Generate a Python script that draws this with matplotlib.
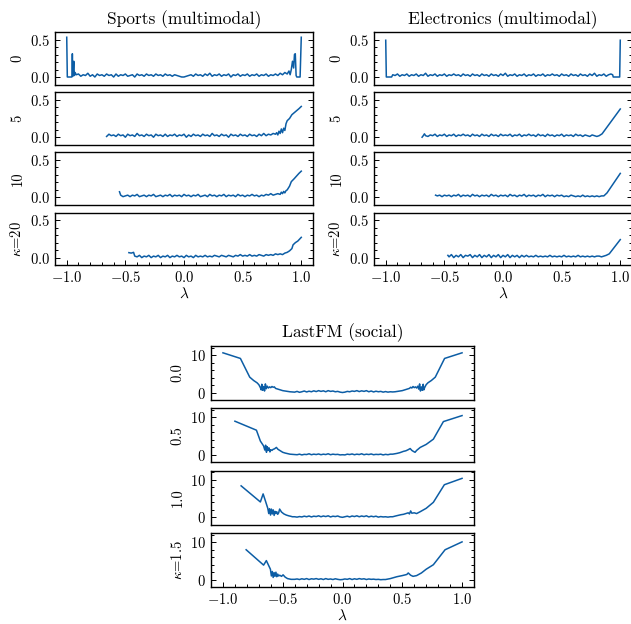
#%% import
import numpy as np
import matplotlib.pyplot as plt
from matplotlib.ticker import MultipleLocator

plt.rcParams['font.family'] = 'serif'
plt.rcParams['font.serif'] = ['cmr10']
plt.rcParams['mathtext.fontset'] = 'cm'
plt.rcParams['axes.formatter.use_mathtext'] = True
plt.rcParams['axes.unicode_minus'] = True

#%% donnees lues sur la figure
# grille commune de lambda pour les parties bruitees
lam_grid = [-1.00, -0.98, -0.96, -0.94, -0.92, -0.90, -0.88, -0.86, -0.84, -0.82,
            -0.80, -0.78, -0.76, -0.74, -0.72, -0.70, -0.68, -0.66, -0.64, -0.62,
            -0.60, -0.58, -0.56, -0.54, -0.52, -0.50, -0.48, -0.46, -0.44, -0.42,
            -0.40, -0.38, -0.36, -0.34, -0.32, -0.30, -0.28, -0.26, -0.24, -0.22,
            -0.20, -0.18, -0.16, -0.14, -0.12, -0.10, -0.08, -0.06, -0.04, -0.02,
            0.00, 0.02, 0.04, 0.06, 0.08, 0.10, 0.12, 0.14, 0.16, 0.18,
            0.20, 0.22, 0.24, 0.26, 0.28, 0.30, 0.32, 0.34, 0.36, 0.38,
            0.40, 0.42, 0.44, 0.46, 0.48, 0.50, 0.52, 0.54, 0.56, 0.58,
            0.60, 0.62, 0.64, 0.66, 0.68, 0.70, 0.72, 0.74, 0.76, 0.78,
            0.80, 0.82, 0.84, 0.86, 0.88, 0.90, 0.92, 0.94, 0.96, 0.98, 1.00]

titles = ['Sports (multimodal)', 'Electronics (multimodal)', 'LastFM (social)']
top_labels = ['0', '5', '10', r'$\kappa$=20']
fm_labels = ['0.0', '0.5', '1.0', r'$\kappa$=1.5']

# Sports, kappa = 0
sp0_hx = [-1.0, -0.995, -0.956, -0.952, -0.948, -0.940, -0.935, -0.928, -0.920]
sp0_hy = [0.53, 0.0, 0.0, 0.31, 0.01, 0.21, 0.02, 0.06, 0.03]
sp0_n0 = -0.90
sp0_ny = [0.04, 0.01, 0.03, 0.02, 0.05, 0.01, 0.03, 0.00, 0.04, 0.02,
          0.03, 0.01, 0.04, 0.02, 0.03, 0.00, 0.04, 0.01, 0.03, 0.02,
          0.04, 0.01, 0.02, 0.03, 0.00, 0.04, 0.02, 0.03, 0.01, 0.04,
          0.02, 0.03, 0.01, 0.04, 0.02, 0.03, 0.01, 0.04, 0.02, 0.03,
          0.01, 0.03, 0.02, 0.01, 0.00, 0.00, 0.01, 0.02, 0.03, 0.01,
          0.04, 0.02, 0.03, 0.01, 0.04, 0.02, 0.05, 0.01, 0.03, 0.02,
          0.04, 0.01, 0.03, 0.02, 0.04, 0.00, 0.03, 0.02, 0.04, 0.01,
          0.03, 0.02, 0.04, 0.01, 0.03, 0.02, 0.04, 0.01, 0.03, 0.02,
          0.04, 0.01, 0.03, 0.02, 0.04, 0.02, 0.05, 0.03, 0.06, 0.04]
sp0_tx = [0.895, 0.905, 0.915, 0.925, 0.935, 0.942, 0.949, 0.956, 0.962, 0.99, 1.0]
sp0_ty = [0.08, 0.03, 0.10, 0.21, 0.12, 0.30, 0.31, 0.02, 0.0, 0.0, 0.53]

# Sports, kappa = 5
sp5_hx = []
sp5_hy = []
sp5_n0 = -0.66
sp5_ny = [0.01, 0.04, 0.02, 0.03, 0.01, 0.04, 0.02, 0.03, 0.00, 0.04,
          0.02, 0.03, 0.01, 0.05, 0.02, 0.03, 0.01, 0.04, 0.02, 0.03,
          0.00, 0.04, 0.02, 0.03, 0.01, 0.04, 0.01, 0.03, 0.02, 0.04,
          0.01, 0.03, 0.02, 0.04, 0.00, 0.03, 0.01, 0.04, 0.02, 0.03,
          0.01, 0.04, 0.02, 0.03, 0.01, 0.05, 0.02, 0.03, 0.01, 0.04,
          0.02, 0.03, 0.00, 0.04, 0.02, 0.03, 0.01, 0.04, 0.02, 0.03,
          0.01, 0.04, 0.02, 0.03, 0.01, 0.04, 0.02, 0.05, 0.02, 0.04,
          0.03, 0.05]
sp5_tx = [0.78, 0.79, 0.80, 0.81, 0.82, 0.83, 0.84, 0.85, 0.86, 0.87, 0.88, 0.90, 0.92, 0.95, 0.98, 1.0]
sp5_ty = [0.04, 0.06, 0.03, 0.08, 0.05, 0.11, 0.06, 0.12, 0.09, 0.18, 0.22, 0.25, 0.30, 0.34, 0.38, 0.41]

# Sports, kappa = 10
sp10_hx = [-0.55]
sp10_hy = [0.075]
sp10_n0 = -0.54
sp10_ny = [0.03, 0.01, 0.02, 0.03, 0.01, 0.03, 0.02, 0.04, 0.01, 0.02,
           0.03, 0.01, 0.03, 0.02, 0.04, 0.01, 0.02, 0.03, 0.01, 0.03,
           0.02, 0.04, 0.01, 0.03, 0.02, 0.03, 0.01, 0.04, 0.02, 0.03,
           0.01, 0.03, 0.02, 0.04, 0.01, 0.02, 0.03, 0.01, 0.04, 0.02,
           0.03, 0.01, 0.03, 0.02, 0.04, 0.01, 0.03, 0.02, 0.03, 0.01,
           0.04, 0.02, 0.03, 0.01, 0.03, 0.02, 0.04, 0.02, 0.03, 0.01,
           0.03, 0.02, 0.04, 0.03, 0.05, 0.03, 0.04]
sp10_tx = [0.80, 0.82, 0.83, 0.84, 0.85, 0.86, 0.87, 0.88, 0.90, 0.915, 0.94, 0.957, 0.98, 1.0]
sp10_ty = [0.05, 0.04, 0.07, 0.05, 0.08, 0.06, 0.09, 0.10, 0.15, 0.21, 0.25, 0.28, 0.32, 0.35]

# Sports, kappa = 20
sp20_hx = [-0.47, -0.45, -0.43, -0.42]
sp20_hy = [0.066, 0.06, 0.07, 0.02]
sp20_n0 = -0.40
sp20_ny = [0.01, 0.03, 0.00, 0.02, 0.01, 0.03, 0.00, 0.02, 0.01, 0.03,
           0.00, 0.02, 0.01, 0.03, 0.00, 0.02, 0.01, 0.03, 0.01, 0.02,
           0.00, 0.03, 0.01, 0.02, 0.00, 0.03, 0.01, 0.02, 0.01, 0.03,
           0.01, 0.02, 0.01, 0.03, 0.02, 0.01, 0.03, 0.02, 0.01, 0.03,
           0.02, 0.01, 0.03, 0.02, 0.04, 0.02, 0.03, 0.02, 0.04, 0.02,
           0.03, 0.02, 0.04, 0.03, 0.02, 0.04, 0.03, 0.04, 0.03, 0.05,
           0.04]
sp20_tx = [0.82, 0.84, 0.86, 0.88, 0.90, 0.92, 0.93, 0.95, 0.97, 1.0]
sp20_ty = [0.05, 0.04, 0.06, 0.07, 0.09, 0.12, 0.17, 0.20, 0.22, 0.27]

# Electronics, kappa = 0
el0_hx = [-1.0, -0.995, -0.95, -0.94]
el0_hy = [0.49, 0.0, 0.0, 0.03]
el0_n0 = -0.92
el0_ny = [0.02, 0.04, 0.01, 0.03, 0.02, 0.04, 0.01, 0.03, 0.02, 0.04,
          0.01, 0.03, 0.02, 0.05, 0.01, 0.03, 0.02, 0.04, 0.01, 0.03,
          0.02, 0.04, 0.01, 0.03, 0.02, 0.04, 0.02, 0.03, 0.01, 0.04,
          0.02, 0.03, 0.01, 0.04, 0.02, 0.03, 0.01, 0.04, 0.02, 0.03,
          0.01, 0.04, 0.02, 0.03, 0.01, 0.04, 0.02, 0.05, 0.01, 0.03,
          0.02, 0.04, 0.01, 0.03, 0.02, 0.04, 0.01, 0.03, 0.02, 0.04,
          0.01, 0.03, 0.02, 0.04, 0.01, 0.03, 0.02, 0.04, 0.02, 0.03,
          0.01, 0.04, 0.02, 0.03, 0.01, 0.04, 0.02, 0.03, 0.01, 0.04,
          0.02, 0.03, 0.01, 0.04, 0.02, 0.05, 0.01, 0.03, 0.02, 0.04,
          0.01, 0.03, 0.04]
el0_tx = [0.935, 0.94, 0.995, 1.0]
el0_ty = [0.03, 0.0, 0.0, 0.49]

# Electronics, kappa = 5
el5_hx = [-0.69, -0.68, -0.67]
el5_hy = [0.0, 0.02, 0.045]
el5_n0 = -0.66
el5_ny = [0.02, 0.01, 0.03, 0.02, 0.04, 0.01, 0.03, 0.02, 0.04, 0.01,
          0.03, 0.02, 0.04, 0.01, 0.03, 0.02, 0.04, 0.02, 0.03, 0.01,
          0.04, 0.02, 0.03, 0.01, 0.04, 0.02, 0.03, 0.01, 0.04, 0.02,
          0.03, 0.01, 0.04, 0.02, 0.03, 0.02, 0.04, 0.01, 0.03, 0.02,
          0.04, 0.01, 0.03, 0.02, 0.04, 0.02, 0.03, 0.01, 0.04, 0.02,
          0.03, 0.01, 0.04, 0.02, 0.03, 0.01, 0.03, 0.02, 0.04, 0.01,
          0.03, 0.02, 0.03, 0.01, 0.04, 0.02, 0.03, 0.01, 0.03, 0.02,
          0.01, 0.03, 0.02, 0.01, 0.02]
el5_tx = [0.845, 1.0]
el5_ty = [0.045, 0.376]

# Electronics, kappa = 10
el10_hx = [-0.575]
el10_hy = [0.03]
el10_n0 = -0.56
el10_ny = [0.02, 0.03, 0.01, 0.03, 0.02, 0.03, 0.01, 0.03, 0.02, 0.04,
           0.01, 0.03, 0.02, 0.03, 0.01, 0.04, 0.02, 0.03, 0.01, 0.03,
           0.02, 0.03, 0.01, 0.04, 0.02, 0.03, 0.01, 0.03, 0.02, 0.03,
           0.01, 0.04, 0.02, 0.03, 0.01, 0.03, 0.02, 0.04, 0.01, 0.03,
           0.02, 0.03, 0.01, 0.03, 0.02, 0.04, 0.01, 0.03, 0.02, 0.03,
           0.01, 0.03, 0.02, 0.03, 0.01, 0.02, 0.01, 0.03, 0.02, 0.01,
           0.02, 0.01, 0.03, 0.01, 0.02, 0.01, 0.02, 0.01, 0.02, 0.01,
           0.02, 0.02]
el10_tx = [0.887, 1.0]
el10_ty = [0.06, 0.32]

# Electronics, kappa = 20
el20_hx = [-0.47]
el20_hy = [0.03]
el20_n0 = -0.46
el20_ny = [0.01, 0.04, 0.00, 0.03, 0.01, 0.04, 0.00, 0.03, 0.02, 0.04,
           0.00, 0.03, 0.01, 0.04, 0.00, 0.03, 0.01, 0.04, 0.00, 0.03,
           0.01, 0.04, 0.00, 0.03, 0.01, 0.04, 0.00, 0.03, 0.01, 0.03,
           0.00, 0.03, 0.01, 0.03, 0.01, 0.02, 0.01, 0.03, 0.01, 0.02,
           0.01, 0.02, 0.01, 0.03, 0.01, 0.02, 0.01, 0.02, 0.01, 0.03,
           0.01, 0.02, 0.01, 0.02, 0.01, 0.03, 0.01, 0.02, 0.01, 0.02,
           0.01, 0.02, 0.01, 0.02, 0.02, 0.01, 0.02, 0.03]
el20_tx = [0.906, 1.0]
el20_ty = [0.05, 0.24]

# LastFM, kappa = 0.0
fm0_hx = [-1.0, -0.854, -0.776, -0.743, -0.715, -0.70, -0.687, -0.68, -0.675, -0.668,
          -0.66, -0.652, -0.645, -0.638, -0.63, -0.62, -0.61, -0.60, -0.59, -0.58,
          -0.57, -0.56, -0.54, -0.52, -0.50, -0.48, -0.46, -0.44, -0.42]
fm0_hy = [10.6, 9.1, 4.1, 3.2, 2.6, 2.1, 1.3, 0.7, 2.2, 0.6,
          1.6, 0.4, 2.3, 1.0, 1.7, 1.2, 1.5, 1.3, 1.6, 1.4,
          1.5, 1.1, 0.9, 0.7, 0.5, 0.4, 0.3, 0.2, 0.15]
fm0_n0 = -0.40
fm0_ny = [0.1, 0.3, 0.05, 0.2, 0.4, 0.15, 0.35, 0.2, 0.45, 0.25,
          0.5, 0.3, 0.45, 0.2, 0.5, 0.3, 0.4, 0.2, 0.3, 0.1,
          0.0, 0.1, 0.3, 0.2, 0.4, 0.3, 0.5, 0.25, 0.45, 0.3,
          0.5, 0.2, 0.4, 0.15, 0.35, 0.2, 0.3, 0.1, 0.25, 0.1, 0.2]
fm0_tx = [0.42, 0.44, 0.46, 0.48, 0.50, 0.52, 0.54, 0.56, 0.57, 0.58,
          0.59, 0.60, 0.61, 0.62, 0.63, 0.638, 0.645, 0.652, 0.66, 0.668,
          0.675, 0.68, 0.687, 0.70, 0.715, 0.743, 0.776, 0.854, 1.0]
fm0_ty = [0.15, 0.2, 0.3, 0.4, 0.5, 0.7, 0.9, 1.1, 1.4, 1.2,
          1.6, 1.3, 1.5, 1.2, 1.7, 0.9, 2.3, 0.4, 1.5, 0.6,
          2.2, 0.7, 1.3, 2.1, 2.6, 3.2, 4.1, 9.1, 10.6]

# LastFM, kappa = 0.5
fm5_hx = [-0.90, -0.72, -0.687, -0.66, -0.65, -0.643, -0.636, -0.63, -0.622, -0.615,
          -0.607, -0.60, -0.59, -0.58, -0.57, -0.553, -0.54, -0.52, -0.50, -0.48,
          -0.46, -0.44, -0.42]
fm5_hy = [9.0, 6.6, 3.7, 2.4, 1.3, 2.6, 0.7, 2.2, 1.2, 1.9,
          0.8, 1.4, 1.2, 1.5, 1.6, 2.0, 1.5, 1.1, 0.7, 0.5,
          0.35, 0.2, 0.15]
fm5_n0 = -0.40
fm5_ny = [0.1, 0.05, 0.2, 0.0, 0.15, 0.1, 0.3, 0.05, 0.2, 0.1,
          0.25, 0.05, 0.2, 0.1, 0.3, 0.05, 0.2, 0.1, 0.15, 0.0,
          0.05, 0.0, 0.2, 0.1, 0.25, 0.05, 0.2, 0.1, 0.3, 0.05,
          0.2, 0.1, 0.25, 0.05, 0.15, 0.1, 0.2, 0.0, 0.15, 0.05, 0.2]
fm5_tx = [0.42, 0.455, 0.48, 0.51, 0.53, 0.55, 0.566, 0.58, 0.595, 0.607,
          0.62, 0.65, 0.70, 0.76, 0.844, 1.0]
fm5_ty = [0.2, 0.4, 0.6, 0.95, 1.1, 1.4, 1.7, 1.2, 0.9, 0.7,
          1.2, 2.0, 2.8, 4.2, 8.9, 10.5]

# LastFM, kappa = 1.0
fm10_hx = [-0.848, -0.687, -0.664, -0.645, -0.625, -0.617, -0.61, -0.602, -0.595, -0.587,
           -0.58, -0.572, -0.565, -0.557, -0.55, -0.542, -0.534, -0.526, -0.51, -0.49,
           -0.47, -0.45, -0.43, -0.42]
fm10_hy = [8.4, 4.1, 6.25, 4.4, 2.4, 1.0, 2.3, 0.6, 2.2, 0.9,
           2.0, 0.5, 1.6, 1.0, 1.5, 0.8, 1.2, 2.2, 1.4, 0.9,
           0.6, 0.4, 0.25, 0.15]
fm10_n0 = -0.40
fm10_ny = [0.15, 0.05, 0.2, 0.1, 0.3, 0.15, 0.35, 0.1, 0.3, 0.2,
           0.4, 0.15, 0.35, 0.2, 0.4, 0.1, 0.3, 0.2, 0.35, 0.1,
           0.0, 0.15, 0.3, 0.1, 0.35, 0.2, 0.4, 0.15, 0.35, 0.2,
           0.4, 0.1, 0.3, 0.15, 0.3, 0.05, 0.2, 0.1, 0.15, 0.05, 0.15]
fm10_tx = [0.42, 0.45, 0.49, 0.51, 0.53, 0.55, 0.56, 0.57, 0.58, 0.60,
           0.62, 0.65, 0.70, 0.76, 0.852, 1.0]
fm10_ty = [0.15, 0.4, 0.7, 0.8, 1.0, 1.2, 0.9, 1.7, 1.1, 1.2,
           1.0, 1.5, 2.4, 4.0, 8.7, 10.4]

# LastFM, kappa = 1.5
fm15_hx = [-0.806, -0.66, -0.637, -0.603, -0.595, -0.587, -0.58, -0.572, -0.565, -0.557,
           -0.55, -0.542, -0.534, -0.525, -0.51, -0.497, -0.48, -0.46, -0.43, -0.42]
fm15_hy = [8.0, 3.9, 5.1, 2.8, 1.0, 2.2, 0.6, 1.9, 0.9, 2.0,
           0.8, 1.5, 1.0, 1.2, 0.9, 1.3, 0.7, 0.3, 0.1, 0.1]
fm15_n0 = -0.40
fm15_ny = [0.1, 0.2, 0.05, 0.25, 0.1, 0.3, 0.05, 0.25, 0.15, 0.3,
           0.1, 0.25, 0.05, 0.3, 0.1, 0.2, 0.05, 0.25, 0.1, 0.0,
           0.05, 0.2, 0.1, 0.3, 0.05, 0.25, 0.1, 0.3, 0.15, 0.25,
           0.05, 0.2, 0.1, 0.15, 0.05, 0.1, 0.0, 0.05]
fm15_tx = [0.36, 0.40, 0.455, 0.50, 0.538, 0.55, 0.57, 0.59, 0.62, 0.66,
           0.70, 0.76, 0.858, 1.0]
fm15_ty = [0.05, 0.3, 0.8, 1.1, 1.4, 1.8, 1.2, 0.9, 1.1, 1.8,
           2.8, 4.0, 8.0, 10.1]


def assemble(hx, hy, n0, ny, tx, ty):
    grid = np.array(lam_grid)
    i0 = int(np.argmin(np.abs(grid - n0)))
    x = list(hx) + list(grid[i0:i0 + len(ny)]) + list(tx)
    y = list(hy) + list(ny) + list(ty)
    return x, y


sports = [assemble(sp0_hx, sp0_hy, sp0_n0, sp0_ny, sp0_tx, sp0_ty),
          assemble(sp5_hx, sp5_hy, sp5_n0, sp5_ny, sp5_tx, sp5_ty),
          assemble(sp10_hx, sp10_hy, sp10_n0, sp10_ny, sp10_tx, sp10_ty),
          assemble(sp20_hx, sp20_hy, sp20_n0, sp20_ny, sp20_tx, sp20_ty)]
electronics = [assemble(el0_hx, el0_hy, el0_n0, el0_ny, el0_tx, el0_ty),
               assemble(el5_hx, el5_hy, el5_n0, el5_ny, el5_tx, el5_ty),
               assemble(el10_hx, el10_hy, el10_n0, el10_ny, el10_tx, el10_ty),
               assemble(el20_hx, el20_hy, el20_n0, el20_ny, el20_tx, el20_ty)]
lastfm = [assemble(fm0_hx, fm0_hy, fm0_n0, fm0_ny, fm0_tx, fm0_ty),
          assemble(fm5_hx, fm5_hy, fm5_n0, fm5_ny, fm5_tx, fm5_ty),
          assemble(fm10_hx, fm10_hy, fm10_n0, fm10_ny, fm10_tx, fm10_ty),
          assemble(fm15_hx, fm15_hy, fm15_n0, fm15_ny, fm15_tx, fm15_ty)]

#%% figure
W, H = 631, 624
fig = plt.figure(figsize=(W / 100, H / 100), dpi=100)
col = '#0C5DA5'


def panel_block(left_px, width_px, tops_px, h_px, data, labels, title,
                ylim, ymaj, ymin):
    for k in range(4):
        top = tops_px[k]
        ax = fig.add_axes([left_px / W, (H - top - h_px) / H, width_px / W, h_px / H])
        x, y = data[k]
        ax.plot(x, y, color=col, lw=1.1)
        ax.set_xlim(-1.1, 1.1)
        ax.set_ylim(*ylim)
        ax.xaxis.set_major_locator(MultipleLocator(0.5))
        ax.xaxis.set_minor_locator(MultipleLocator(0.1))
        ax.yaxis.set_major_locator(MultipleLocator(ymaj))
        ax.yaxis.set_minor_locator(MultipleLocator(ymin))
        last = (k == 3)
        ax.tick_params(which='both', direction='in', left=True, right=True,
                       top=False, bottom=last, labelbottom=last, labelsize=10.5,
                       width=0.7)
        ax.tick_params(which='major', length=3.5)
        ax.tick_params(which='minor', length=2)
        for s in ax.spines.values():
            s.set_linewidth(1.0)
        ax.set_ylabel(labels[k], fontsize=10.5)
        if k == 0:
            ax.set_title(title, fontsize=12.5, pad=6)
        if last:
            ax.set_xlabel(r'$\lambda$', fontsize=11, labelpad=1)


tops_top = [32, 92.2, 152.4, 212.6]
panel_block(55, 258, tops_top, 52.5, sports, top_labels, titles[0],
            (-0.1, 0.6), 0.5, 0.1)
panel_block(374, 258, tops_top, 52.5, electronics, top_labels, titles[1],
            (-0.1, 0.6), 0.5, 0.1)
tops_bot = [345.7, 408.1, 470.5, 532.9]
panel_block(211, 263, tops_bot, 54.3, lastfm, fm_labels, titles[2],
            (-2.0, 12.5), 10, 2)

plt.savefig('out.png', dpi=100)
